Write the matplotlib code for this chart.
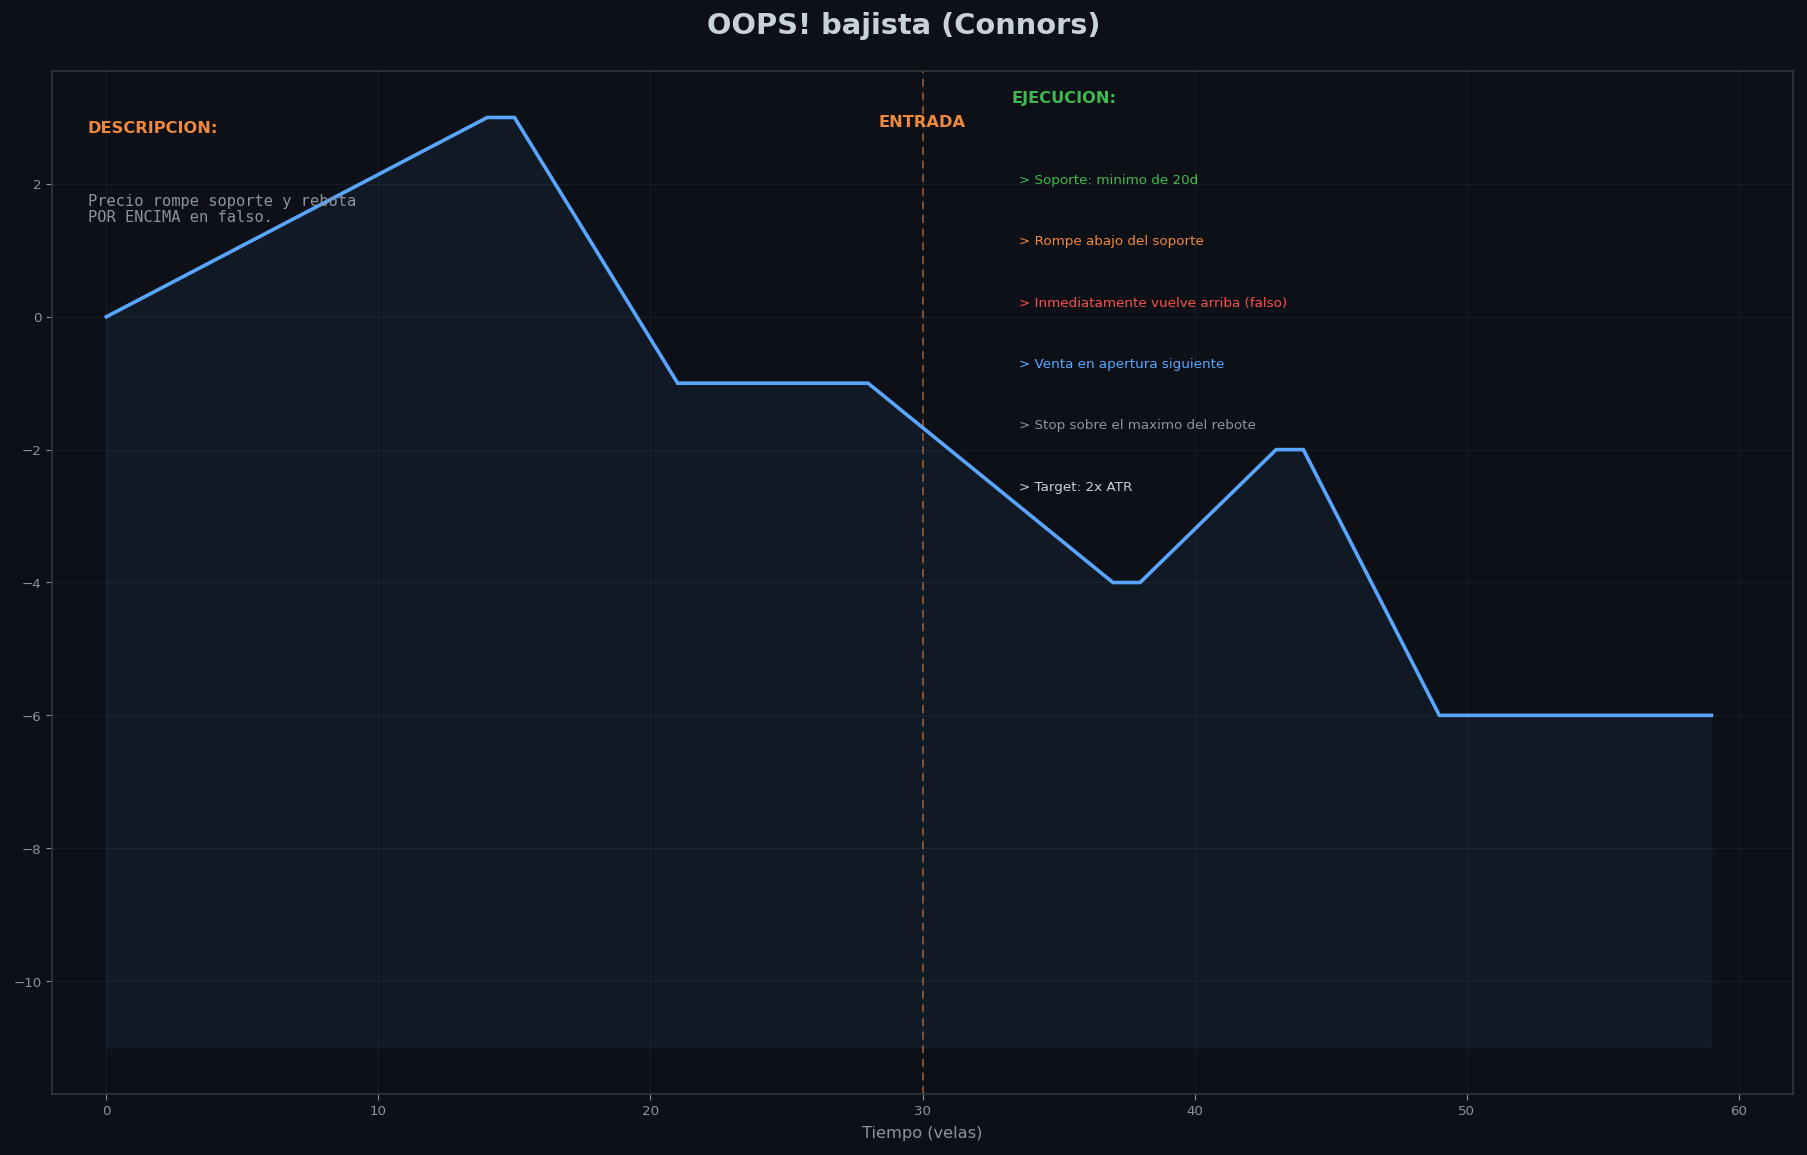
import matplotlib
matplotlib.use("Agg")
import matplotlib.pyplot as plt

# Data (breakpoints of the price path)
x_vals = [0, 14, 15, 21, 28, 37, 38, 43, 44, 49, 59]
y_vals = [0, 3, 3, -1, -1, -4, -4, -2, -2, -6, -6]
fill_base = -11
entry_x = 30

title = "OOPS! bajista (Connors)"
xlabel = "Tiempo (velas)"
desc_title = "DESCRIPCION:"
desc_text = "Precio rompe soporte y rebota\nPOR ENCIMA en falso."
exec_title = "EJECUCION:"
exec_items = [
    "> Soporte: minimo de 20d",
    "> Rompe abajo del soporte",
    "> Inmediatamente vuelve arriba (falso)",
    "> Venta en apertura siguiente",
    "> Stop sobre el maximo del rebote",
    "> Target: 2x ATR",
]
exec_colors = ["#3fb950", "#f0883e", "#f85149", "#58a6ff", "#8b949e", "#c9d1d9"]

BG = "#0d1117"
fig = plt.figure(figsize=(18.07, 11.555), dpi=100, facecolor=BG)
ax = fig.add_axes([52/1807, 1 - 1095/1156, (1793-52)/1807, (1095-71.5)/1156])
ax.set_facecolor(BG)

ax.fill_between(x_vals, y_vals, fill_base, facecolor="#58a6ff", alpha=0.06,
                edgecolor="#58a6ff", lw=0.8)
ax.plot(x_vals, y_vals, color="#58a6ff", lw=2.6, solid_joinstyle="miter")
ax.axvline(entry_x, color="#f0883e", lw=1.4, ls=(0, (4, 3)), alpha=0.5)

ax.set_xlim(-2, 62)
ax.set_ylim(-11.7, 3.7)
ax.grid(True, color="#21262d", lw=0.8, alpha=0.6)
ax.set_axisbelow(True)
for s in ax.spines.values():
    s.set_color("#30363d")
    s.set_linewidth(1.2)
ax.tick_params(colors="#8b949e", labelsize=9.6, length=4)

ax.set_xlabel(xlabel, color="#8b949e", fontsize=11.7, labelpad=5.5)
fig.suptitle(title, color="#c9d1d9", fontsize=20.8, fontweight="bold", y=0.99)

ax.text(0.0205, 0.952, desc_title, transform=ax.transAxes, color="#f0883e",
        fontsize=11.7, fontweight="bold", va="top", ha="left")
ax.text(0.0205, 0.8805, desc_text, transform=ax.transAxes, color="#8b949e",
        fontsize=11.1, family="DejaVu Sans Mono", va="top", ha="left", linespacing=1.12)

ax.text(entry_x, 2.86, "ENTRADA", color="#f0883e", fontsize=11.7, fontweight="bold",
        ha="center", va="baseline")
ax.text(0.551, 0.981, exec_title, transform=ax.transAxes, color="#3fb950",
        fontsize=11.7, fontweight="bold", va="top", ha="left")
for i, (t, c) in enumerate(zip(exec_items, exec_colors)):
    ax.text(0.5555, 0.8935 - 0.06 * i, t, transform=ax.transAxes, color=c,
            fontsize=9.7, va="center", ha="left")

fig.savefig("out.png", dpi=100, facecolor=BG)
